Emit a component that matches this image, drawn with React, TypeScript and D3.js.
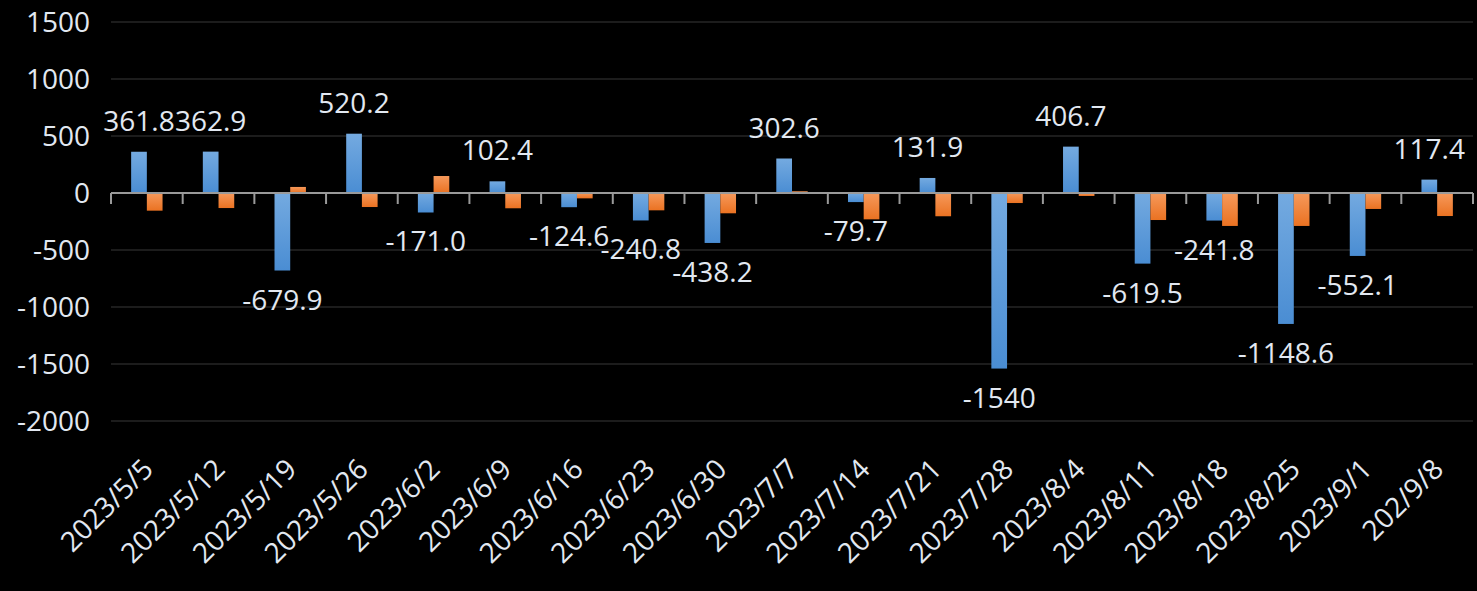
import React, { useEffect } from "react";
import * as d3 from "d3";

const categories = [
  "2023/5/5", "2023/5/12", "2023/5/19", "2023/5/26", "2023/6/2", "2023/6/9",
  "2023/6/16", "2023/6/23", "2023/6/30", "2023/7/7", "2023/7/14", "2023/7/21",
  "2023/7/28", "2023/8/4", "2023/8/11", "2023/8/18", "2023/8/25", "2023/9/1", "202/9/8",
];
const blueValues = [
  361.8, 362.9, -679.9, 520.2, -171.0, 102.4, -124.6, -240.8, -438.2, 302.6,
  -79.7, 131.9, -1540, 406.7, -619.5, -241.8, -1148.6, -552.1, 117.4,
];
const blueLabels = [
  "361.8", "362.9", "-679.9", "520.2", "-171.0", "102.4", "-124.6", "-240.8", "-438.2", "302.6",
  "-79.7", "131.9", "-1540", "406.7", "-619.5", "-241.8", "-1148.6", "-552.1", "117.4",
];
const orangeValues = [
  -155, -132, 53, -123, 149, -134, -47, -152, -178, 15,
  -231, -204, -88, -26, -237, -289, -289, -140, -202,
];
const yTicks = [1500, 1000, 500, 0, -500, -1000, -1500, -2000];

const W = 1477;
const H = 591;
const FONT = "'Open Sans', 'Noto Sans', sans-serif";
const TEXT = "#e2e8f1";

export default function App() {
  useEffect(() => {
    document.body.style.margin = "0";
    document.body.style.background = "#000";
  }, []);

  const x = d3.scaleBand<string>().domain(categories).range([111, 1473]).paddingInner(0).paddingOuter(0);
  const y = d3.scaleLinear().domain([-2000, 1500]).range([421, 22]);
  const bw = x.bandwidth();
  const inner = d3.scaleBand<string>().domain(["b", "o"]).range([-15.7, 15.7]);
  const y0 = y(0);

  return (
    <svg width={W} height={H} style={{ display: "block", background: "#000" }} fontFamily={FONT}>
      <defs>
        <linearGradient id="gBlue" x1="0" y1="0" x2="0" y2="1">
          <stop offset="0%" stopColor="#74aae0" />
          <stop offset="100%" stopColor="#4a8dd3" />
        </linearGradient>
        <linearGradient id="gOrange" x1="0" y1="0" x2="0" y2="1">
          <stop offset="0%" stopColor="#f6995b" />
          <stop offset="100%" stopColor="#ea7222" />
        </linearGradient>
      </defs>
      <rect x={0} y={0} width={W} height={H} fill="#000" />
      {yTicks.map((t) => (
        <g key={t}>
          {t !== 0 && (
            <line x1={111} x2={1473} y1={y(t)} y2={y(t)} stroke="#262626" strokeWidth={1.5} />
          )}
          <text x={90} y={y(t) + 10} textAnchor="end" fontSize={28} fill={TEXT}>
            {t}
          </text>
        </g>
      ))}
      {categories.map((c, i) => {
        const cx = (x(c) as number) + bw / 2;
        const bv = blueValues[i];
        const ov = orangeValues[i];
        return (
          <g key={c}>
            <rect
              x={cx + (inner("b") as number)}
              width={inner.bandwidth()}
              y={Math.min(y(bv), y0)}
              height={Math.abs(y(bv) - y0)}
              fill="url(#gBlue)"
            />
            <rect
              x={cx + (inner("o") as number)}
              width={inner.bandwidth()}
              y={Math.min(y(ov), y0)}
              height={Math.abs(y(ov) - y0)}
              fill="url(#gOrange)"
            />
          </g>
        );
      })}
      <line x1={111} x2={1473} y1={y0} y2={y0} stroke="#9a9a9a" strokeWidth={2} />
      {d3.range(categories.length + 1).map((i) => {
        const tx = 111 + i * bw;
        return <line key={i} x1={tx} x2={tx} y1={y0} y2={y0 + 11} stroke="#9a9a9a" strokeWidth={2} />;
      })}
      {categories.map((c, i) => {
        const cx = (x(c) as number) + bw / 2;
        const bcx = cx + (inner("b") as number) + inner.bandwidth() / 2;
        const bv = blueValues[i];
        const ly = bv >= 0 ? y(bv) - 21 : y(bv) + 39;
        return (
          <text key={"l" + c} x={bcx} y={ly} textAnchor="middle" fontSize={28} fill={TEXT}>
            {blueLabels[i]}
          </text>
        );
      })}
      {categories.map((c) => {
        const cx = (x(c) as number) + bw / 2;
        return (
          <text
            key={"x" + c}
            transform={`translate(${cx + 8},${471}) rotate(-45)`}
            textAnchor="end"
            fontSize={28}
            fill={TEXT}
          >
            {c}
          </text>
        );
      })}
    </svg>
  );
}
